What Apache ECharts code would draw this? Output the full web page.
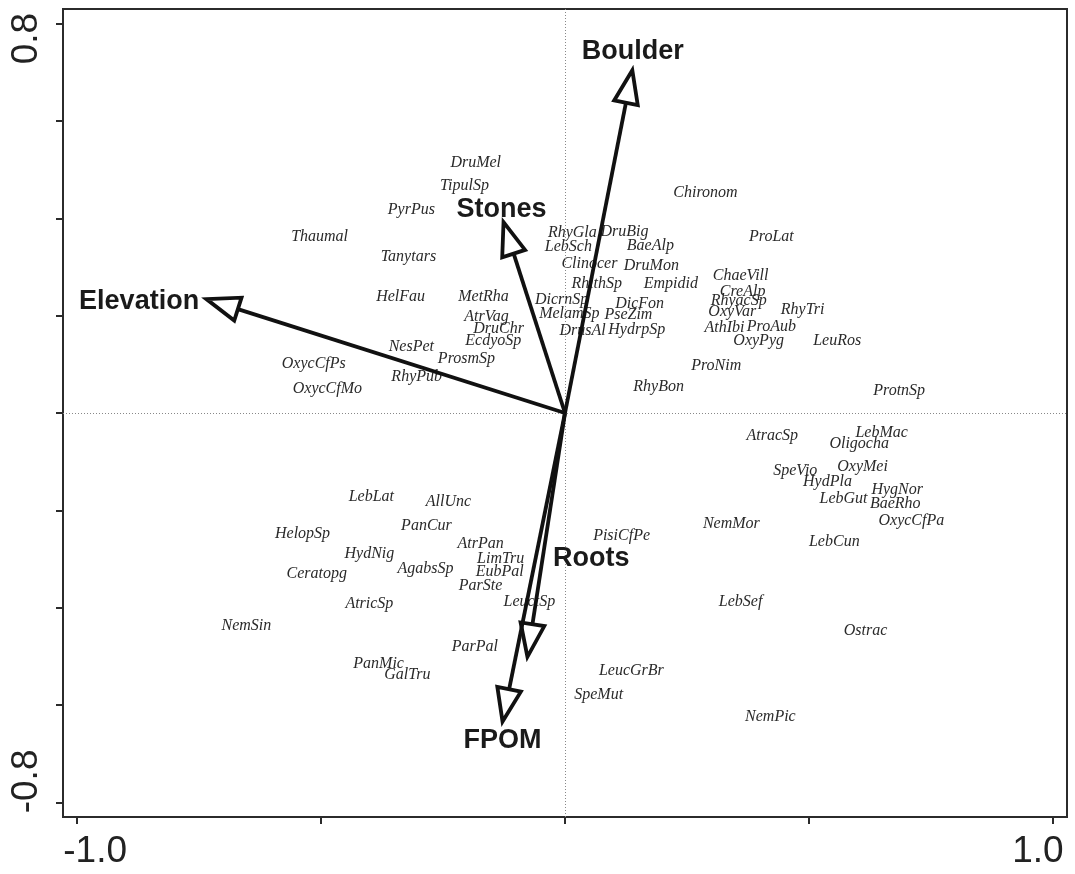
<!DOCTYPE html>
<html>
<head>
<meta charset="utf-8">
<script src="https://cdn.jsdelivr.net/npm/echarts@6/dist/echarts.min.js"></script>
<style>
  html, body { margin: 0; padding: 0; background: #fff; }
  #chart { width: 1075px; height: 874px; }
</style>
</head>
<body>
<div id="chart"></div>
<script>
// species scores (axis 1, axis 2)
var speciesNames = [
  'DruMel', 'TipulSp', 'PyrPus', 'Thaumal', 'Tanytars', 'HelFau', 'MetRha', 'AtrVag',
  'DruChr', 'EcdyoSp', 'NesPet', 'ProsmSp', 'RhyPub', 'OxycCfPs', 'OxycCfMo',
  'RhyGla', 'DruBig', 'LebSch', 'BaeAlp', 'Clinocer', 'DruMon', 'RhithSp', 'Empidid',
  'DicrnSp', 'DicFon', 'MelamSp', 'PseZim', 'DrusAl', 'HydrpSp', 'Chironom', 'ProLat',
  'ChaeVill', 'CreAlp', 'RhyacSp', 'OxyVar', 'AthIbi', 'ProAub', 'OxyPyg', 'RhyTri',
  'LeuRos', 'ProNim', 'RhyBon', 'ProtnSp',
  'AtracSp', 'LebMac', 'Oligocha', 'SpeVio', 'OxyMei', 'HydPla', 'HygNor', 'LebGut',
  'BaeRho', 'OxycCfPa', 'NemMor', 'LebCun', 'PisiCfPe', 'LebSef', 'Ostrac', 'LeucGrBr',
  'SpeMut', 'NemPic', 'LebLat', 'AllUnc', 'HelopSp', 'PanCur', 'AtrPan', 'HydNig',
  'LimTru', 'AgabsSp', 'EubPal', 'ParSte', 'Ceratopg', 'AtricSp', 'LeuctSp', 'NemSin',
  'ParPal', 'PanMic', 'GalTru'
];
var speciesX = [
  -0.183, -0.206, -0.315, -0.503, -0.321, -0.337, -0.167, -0.161,
  -0.136, -0.147, -0.315, -0.202, -0.304, -0.515, -0.487,
  0.015, 0.122, 0.007, 0.175, 0.050, 0.177, 0.065, 0.217,
  -0.007, 0.153, 0.009, 0.130, 0.036, 0.147, 0.288, 0.423,
  0.360, 0.364, 0.356, 0.343, 0.327, 0.423, 0.397, 0.487,
  0.558, 0.310, 0.192, 0.685,
  0.425, 0.649, 0.603, 0.472, 0.610, 0.538, 0.681, 0.571,
  0.677, 0.710, 0.341, 0.552, 0.116, 0.360, 0.616, 0.136,
  0.069, 0.421, -0.397, -0.239, -0.538, -0.284, -0.173, -0.401,
  -0.132, -0.286, -0.134, -0.173, -0.509, -0.401, -0.073, -0.653,
  -0.185, -0.382, -0.323
];
var speciesY = [
  0.515, 0.466, 0.418, 0.361, 0.320, 0.238, 0.238, 0.197,
  0.172, 0.148, 0.135, 0.111, 0.074, 0.101, 0.049,
  0.371, 0.373, 0.341, 0.343, 0.306, 0.302, 0.265, 0.265,
  0.232, 0.224, 0.203, 0.201, 0.168, 0.170, 0.453, 0.361,
  0.281, 0.250, 0.230, 0.207, 0.176, 0.178, 0.148, 0.213,
  0.148, 0.096, 0.053, 0.045,
  -0.047, -0.041, -0.064, -0.119, -0.111, -0.142, -0.158, -0.176,
  -0.187, -0.222, -0.228, -0.265, -0.252, -0.388, -0.447, -0.529,
  -0.578, -0.624, -0.172, -0.183, -0.248, -0.232, -0.269, -0.289,
  -0.299, -0.320, -0.326, -0.355, -0.330, -0.392, -0.388, -0.437,
  -0.480, -0.515, -0.537
];

// environmental variables: arrow tips and label anchors
var envNames = ['Elevation', 'Boulder', 'Stones', 'Roots', 'FPOM'];
var envX = [-0.735, 0.138, -0.126, -0.077, -0.128];
var envY = [0.234, 0.704, 0.392, -0.501, -0.634];
var envLabelX = [-0.873, 0.139, -0.130, 0.054, -0.128];
var envLabelY = [0.228, 0.743, 0.418, -0.299, -0.673];

var xTicks = [-1, -0.5, 0, 0.5, 1];
var xLabels = [-1, 1];
var yTicks = [-0.8, -0.6, -0.4, -0.2, 0, 0.2, 0.4, 0.6, 0.8];
var yLabels = [-0.8, 0.8];

var speciesData = speciesNames.map(function (n, i) {
  return { name: n, value: [speciesX[i], speciesY[i]] };
});
var arrowData = envNames.map(function (n, i) {
  return { name: n, value: [envX[i], envY[i]] };
});
var envLabelData = envNames.map(function (n, i) {
  return { name: n, value: [envLabelX[i], envLabelY[i]] };
});

function renderArrow(params, api) {
  var o = api.coord([0, 0]);
  var t = api.coord([api.value(0), api.value(1)]);
  var dx = t[0] - o[0], dy = t[1] - o[1];
  var len = Math.sqrt(dx * dx + dy * dy);
  var ux = dx / len, uy = dy / len;
  var L = 33, W = 12;
  var bx = t[0] - ux * L, by = t[1] - uy * L;
  var px = -uy, py = ux;
  return {
    type: 'group',
    children: [
      { type: 'line', shape: { x1: o[0], y1: o[1], x2: bx, y2: by },
        style: { stroke: '#111', lineWidth: 3.8 } },
      { type: 'polygon',
        shape: { points: [[t[0], t[1]], [bx + px * W, by + py * W], [bx - px * W, by - py * W]] },
        style: { fill: '#fff', stroke: '#111', lineWidth: 3.8, lineJoin: 'miter' } }
    ]
  };
}

var chart = echarts.init(document.getElementById('chart'));

var option = {
  animation: false,
  backgroundColor: '#fff',
  grid: {
    left: 63, right: 8, top: 9, bottom: 57,
    outerBoundsMode: 'none',
    containLabel: false,
    show: true, borderColor: '#2b2b2b', borderWidth: 2
  },
  xAxis: {
    type: 'value',
    min: -1.029, max: 1.029,
    axisLine: { show: true, onZero: false, lineStyle: { color: '#2b2b2b', width: 2 } },
    axisTick: { show: true, customValues: xTicks, length: 7, lineStyle: { color: '#2b2b2b', width: 2 } },
    axisLabel: {
      customValues: xLabels, margin: 16,
      formatter: function (v) { return v < 0 ? '{n|' + v.toFixed(1) + '}' : '{p|' + v.toFixed(1) + '}'; },
      rich: {
        n: { fontFamily: 'Liberation Sans, Arial, sans-serif', fontSize: 37, color: '#222', padding: [0, 0, 0, 36] },
        p: { fontFamily: 'Liberation Sans, Arial, sans-serif', fontSize: 37, color: '#222', padding: [0, 30, 0, 0] }
      }
    },
    splitLine: { show: false }
  },
  yAxis: {
    type: 'value',
    min: -0.83, max: 0.83,
    axisLine: { show: true, onZero: false, lineStyle: { color: '#2b2b2b', width: 2 } },
    axisTick: { show: true, customValues: yTicks, length: 7, lineStyle: { color: '#2b2b2b', width: 2 } },
    axisLabel: {
      customValues: yLabels, rotate: 90, margin: 18,
      formatter: function (v) { return v < 0 ? '{n|' + v.toFixed(1) + '}' : '{p|' + v.toFixed(1) + '}'; },
      rich: {
        n: { fontFamily: 'Liberation Sans, Arial, sans-serif', fontSize: 37, color: '#222', padding: [0, 0, 0, 42] },
        p: { fontFamily: 'Liberation Sans, Arial, sans-serif', fontSize: 37, color: '#222', padding: [0, 30, 0, 0] }
      }
    },
    splitLine: { show: false }
  },
  series: [
    {
      type: 'scatter',
      data: speciesData,
      symbolSize: 1,
      itemStyle: { color: 'rgba(0,0,0,0)', opacity: 1 },
      silent: true,
      z: 2,
      label: {
        show: true, position: 'inside',
        formatter: '{b}',
        fontFamily: 'Liberation Serif, Times New Roman, serif',
        fontStyle: 'italic', fontSize: 16, color: '#2a2a2a'
      },
      markLine: {
        silent: true, symbol: 'none', label: { show: false },
        lineStyle: { color: '#888', type: [1, 2], width: 1, opacity: 1 },
        data: [{ xAxis: 0 }, { yAxis: 0 }]
      }
    },
    {
      type: 'custom',
      data: arrowData,
      renderItem: renderArrow,
      clip: false,
      silent: true,
      z: 5
    },
    {
      type: 'scatter',
      data: envLabelData,
      symbolSize: 1,
      itemStyle: { color: 'rgba(0,0,0,0)', opacity: 1 },
      silent: true,
      z: 6,
      label: {
        show: true, position: 'inside',
        formatter: '{b}',
        fontFamily: 'Liberation Sans, Arial, sans-serif',
        fontWeight: 'bold', fontSize: 27, color: '#1a1a1a'
      }
    }
  ]
};

chart.setOption(option);
</script>
</body>
</html>
